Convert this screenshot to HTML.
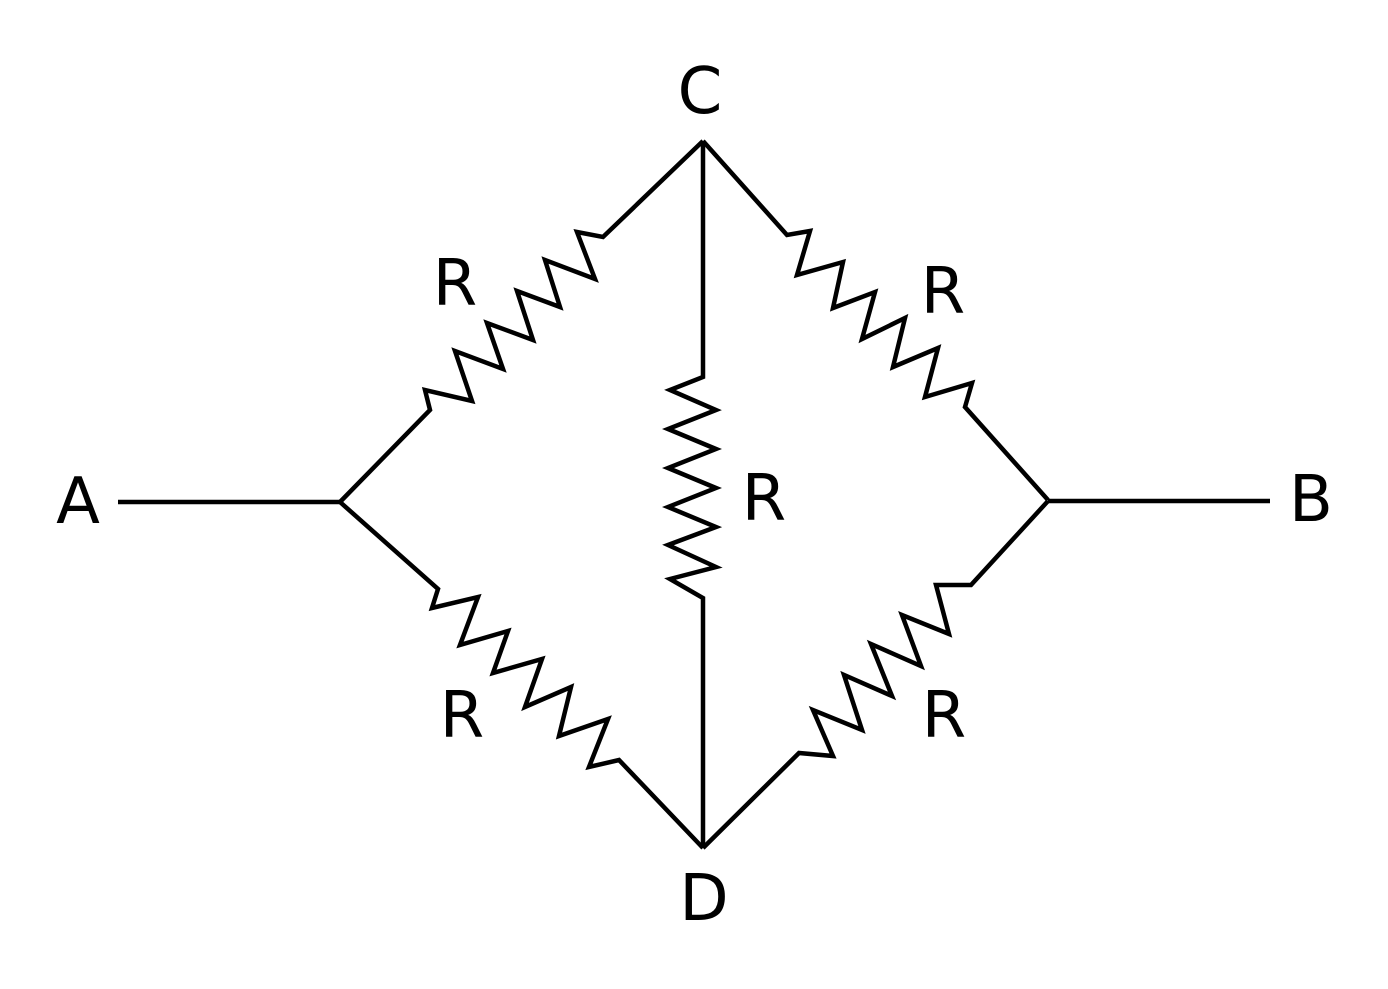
<!DOCTYPE html>
<html><head><meta charset="utf-8"><style>
html,body{margin:0;padding:0;background:#fff;}
svg{display:block;}
text{font-family:"DejaVu Sans","Liberation Sans",sans-serif;font-size:64px;fill:#000;}
</style></head><body>
<svg width="1388" height="989" viewBox="0 0 1388 989" xmlns="http://www.w3.org/2000/svg">
<g fill="none" stroke="#000" stroke-width="4.5" stroke-linejoin="miter" stroke-miterlimit="10">
<line x1="118" y1="502" x2="340" y2="502"/>
<line x1="1048" y1="501" x2="1270" y2="501"/>
<polyline points="340,502 430,410 425,390 472,401 455,351 503,369 487,323 533,340 517,291 560,307 545,260 595,279 577,232 603,237 703,141"/>
<polyline points="703,141 787,235 810,231 797,275 843,262 833,308 875,292 862,339 905,318 893,367 938,348 925,397 972,383 965,407 1048,500"/>
<polyline points="703,141 703,377 670,390 716,410 668,429 716,449 668,468 716,488 668,507 716,527 668,545 716,567 670,579 703,598 703,848"/>
<polyline points="340,502 438,589 432,608 478,597 460,645 508,631 493,673 542,659 525,707 571,687 559,736 608,719 589,767 619,760 703,848"/>
<polyline points="1048,501 971,585 936,585 949,634 902,615 921,666 871,644 892,696 844,675 862,730 813,710 833,756 799,753 703,848"/>
</g>
<text x="700" y="113" text-anchor="middle">C</text>
<text x="78" y="523" text-anchor="middle">A</text>
<text x="1311" y="521" text-anchor="middle">B</text>
<text x="704" y="920" text-anchor="middle">D</text>
<text x="455" y="305" text-anchor="middle">R</text>
<text x="943" y="313" text-anchor="middle">R</text>
<text x="764" y="520" text-anchor="middle">R</text>
<text x="462" y="737" text-anchor="middle">R</text>
<text x="944" y="737" text-anchor="middle">R</text>
</svg>
</body></html>
